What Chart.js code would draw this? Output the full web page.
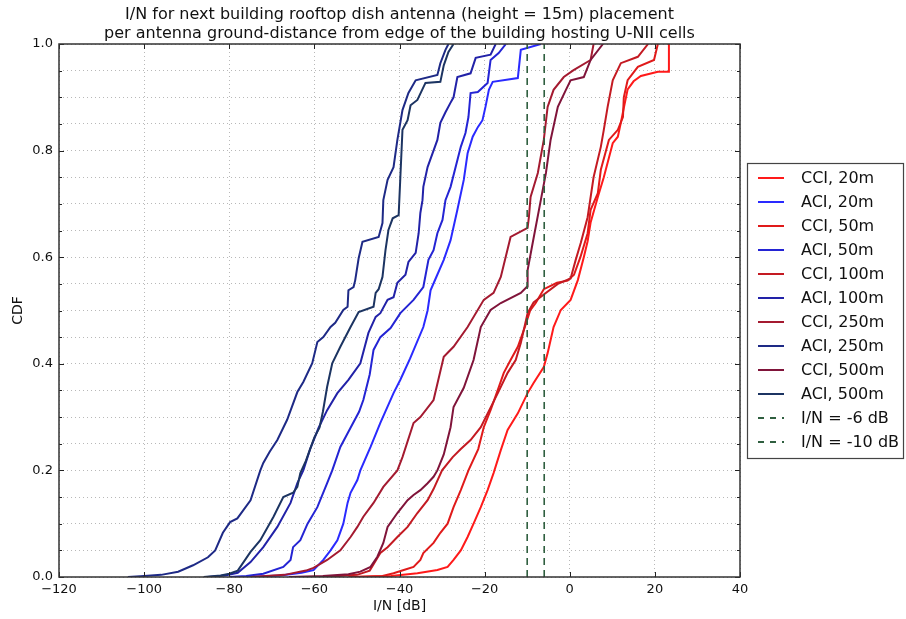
<!DOCTYPE html>
<html>
<head>
<meta charset="utf-8">
<title>I/N CDF</title>
<script src="https://cdn.jsdelivr.net/npm/chart.js@4.4.1/dist/chart.umd.min.js"></script>
<style>
  html, body { margin: 0; padding: 0; background: #fff; }
  #wrap { width: 906px; height: 619px; }
</style>
</head>
<body>
<div id="wrap"><canvas id="cdfChart" width="906" height="619"></canvas></div>
<script>
// CDF curves, each point is [I/N in dB, CDF]
var cci20m = [[-50,0],[-42,0.002],[-38,0.005],[-35.8,0.007],[-31.1,0.013],[-28.7,0.019],[-27.3,0.032],[-25.6,0.05],[-24,0.075],[-22.6,0.1],[-20.9,0.131],[-19.3,0.163],[-17.9,0.195],[-16.2,0.238],[-14.6,0.276],[-12.2,0.307],[-9.9,0.345],[-8.5,0.364],[-6.1,0.394],[-5.2,0.42],[-3.8,0.469],[-2.1,0.501],[0.2,0.52],[1.9,0.557],[3.3,0.6],[4.2,0.63],[4.9,0.665],[6.6,0.713],[8,0.75],[10.1,0.814],[11.3,0.826],[12,0.852],[12.7,0.88],[13.6,0.915],[15,0.93],[16.7,0.94],[20.7,0.948],[23.1,0.948],[23.3,1.0]];
var aci20m = [[-76,0],[-68,0.003],[-63,0.008],[-60.2,0.013],[-57.9,0.032],[-56.2,0.05],[-54.6,0.069],[-53.2,0.1],[-52.2,0.139],[-51.5,0.158],[-49.9,0.182],[-49.2,0.2],[-46.8,0.244],[-44.5,0.289],[-41.4,0.345],[-39.8,0.37],[-37.5,0.41],[-34.4,0.469],[-33.4,0.5],[-32.7,0.538],[-31.5,0.56],[-29.6,0.595],[-28,0.632],[-26.4,0.689],[-24.9,0.745],[-24,0.795],[-22.8,0.826],[-21.6,0.844],[-20.5,0.857],[-19.8,0.882],[-19,0.914],[-18.1,0.929],[-12.2,0.936],[-11.5,0.989],[-6.8,1.0]];
var cci50m = [[-52,0],[-44,0.002],[-41.4,0.007],[-39,0.013],[-36.7,0.019],[-35.1,0.032],[-34.4,0.045],[-32,0.064],[-30.4,0.083],[-28.7,0.1],[-27.3,0.131],[-25.6,0.163],[-23.8,0.2],[-21.5,0.24],[-20.2,0.281],[-18.6,0.313],[-16.9,0.351],[-15.5,0.383],[-13.9,0.407],[-12.2,0.432],[-10.5,0.47],[-9.3,0.5],[-8,0.514],[-6.1,0.54],[-3,0.552],[-0.5,0.556],[1,0.567],[2.5,0.6],[4.2,0.645],[4.9,0.689],[6.6,0.72],[7.3,0.764],[9.2,0.82],[11.3,0.839],[12.5,0.863],[12.7,0.9],[13.6,0.932],[16,0.957],[19.8,0.97],[20.7,1.0]];
var aci50m = [[-80,0],[-76,0.002],[-72,0.006],[-67.3,0.019],[-65.6,0.032],[-65,0.056],[-63.3,0.069],[-61.6,0.1],[-59.3,0.131],[-57,0.176],[-55.8,0.2],[-53.9,0.244],[-51.5,0.28],[-49.5,0.31],[-48.5,0.332],[-47,0.38],[-46.1,0.426],[-44.5,0.45],[-42.1,0.467],[-39.8,0.495],[-36.7,0.52],[-34.4,0.544],[-33.2,0.595],[-32,0.613],[-31.1,0.645],[-29.9,0.67],[-29.2,0.707],[-28,0.732],[-25.6,0.807],[-24.5,0.833],[-23.8,0.863],[-23.3,0.908],[-21.6,0.91],[-19.3,0.927],[-18.6,0.97],[-16.7,0.983],[-15,1.0]];
var cci100m = [[-58,0],[-50,0.004],[-47,0.012],[-44.5,0.045],[-42.8,0.056],[-40.5,0.075],[-38.1,0.094],[-35.8,0.12],[-33.4,0.144],[-32,0.165],[-30,0.2],[-27.5,0.225],[-25.6,0.24],[-23.3,0.257],[-20.9,0.281],[-16.9,0.345],[-14.6,0.383],[-12.7,0.407],[-11.5,0.439],[-9.9,0.495],[-8.5,0.515],[-6.1,0.53],[-2.8,0.55],[0.2,0.56],[1.4,0.595],[2.6,0.627],[4.2,0.675],[5.6,0.75],[7.3,0.807],[8,0.839],[8.9,0.882],[10.1,0.932],[12,0.964],[16,0.976],[18.4,1.0]];
var aci100m = [[-85,0],[-81,0.003],[-78,0.008],[-75,0.028],[-72,0.056],[-68.7,0.094],[-65.6,0.139],[-64,0.176],[-62.6,0.2],[-61,0.24],[-59,0.28],[-57,0.313],[-54.6,0.345],[-52,0.37],[-49.2,0.401],[-47.3,0.458],[-45.6,0.488],[-44.5,0.495],[-42.8,0.52],[-41.4,0.525],[-40.5,0.552],[-38.6,0.567],[-37.9,0.591],[-36.2,0.608],[-35.5,0.645],[-35.1,0.683],[-34.6,0.707],[-34.4,0.732],[-33.4,0.769],[-31.1,0.82],[-30.4,0.852],[-29.2,0.872],[-28,0.89],[-27.3,0.9],[-26.4,0.938],[-23.3,0.945],[-22.1,0.974],[-18.6,0.98],[-17.4,1.0]];
var cci250m = [[-75,0],[-67,0.004],[-62,0.012],[-60.2,0.017],[-57,0.032],[-53.9,0.05],[-51.5,0.075],[-49.9,0.094],[-48.5,0.113],[-46.1,0.139],[-43.8,0.169],[-40.5,0.2],[-39.3,0.225],[-36.7,0.289],[-35.1,0.3],[-32,0.332],[-29.6,0.413],[-27.3,0.432],[-24,0.469],[-20.2,0.52],[-17.9,0.533],[-16.2,0.563],[-13.9,0.638],[-9.9,0.655],[-9.6,0.675],[-9.2,0.713],[-7.5,0.758],[-6.1,0.82],[-5.2,0.882],[-3.8,0.914],[-1.4,0.938],[0.9,0.951],[4.9,0.97],[5.6,1.0]];
var aci250m = [[-103.8,0],[-100,0.002],[-96,0.004],[-92,0.01],[-88.5,0.022],[-85,0.037],[-83.3,0.05],[-81.5,0.083],[-79.8,0.103],[-78.1,0.11],[-75,0.144],[-72.7,0.2],[-72,0.214],[-70.5,0.235],[-68.7,0.257],[-66.4,0.295],[-64,0.347],[-62.6,0.366],[-60.5,0.401],[-59.3,0.441],[-57.9,0.45],[-56.2,0.469],[-55.1,0.477],[-53.2,0.501],[-52.2,0.507],[-52,0.538],[-50.8,0.544],[-50.4,0.557],[-49.6,0.598],[-48.7,0.629],[-44.9,0.638],[-44,0.664],[-43.8,0.707],[-42.8,0.745],[-41.4,0.769],[-40.5,0.82],[-39.3,0.876],[-37.9,0.908],[-36.2,0.932],[-31.1,0.942],[-30.4,0.964],[-29.2,0.989],[-28.5,1.0]];
var cci500m = [[-66,0],[-58,0.002],[-52,0.005],[-49.2,0.01],[-46.8,0.019],[-45.2,0.038],[-43.8,0.064],[-42.8,0.094],[-40.5,0.12],[-38.1,0.144],[-36.7,0.154],[-35.1,0.163],[-33.4,0.176],[-32,0.188],[-31.1,0.2],[-29.6,0.23],[-28,0.281],[-27.3,0.319],[-24.9,0.355],[-22.6,0.407],[-20.9,0.469],[-18.6,0.501],[-16.2,0.514],[-11.5,0.533],[-10,0.545],[-9.9,0.576],[-8.7,0.627],[-6.8,0.707],[-5.6,0.758],[-4.5,0.82],[-2.8,0.882],[-0.9,0.914],[0.2,0.932],[3.3,0.938],[4.9,0.97],[7.8,1.0]];
var aci500m = [[-86,0],[-82,0.003],[-80,0.006],[-78,0.012],[-75,0.047],[-72.7,0.069],[-69.6,0.113],[-67.3,0.15],[-65,0.158],[-64,0.169],[-63.3,0.195],[-62,0.218],[-61,0.24],[-60,0.262],[-58.8,0.28],[-58,0.31],[-57,0.357],[-55.8,0.401],[-53.9,0.432],[-51.5,0.469],[-49.6,0.497],[-46.1,0.507],[-45.6,0.533],[-44.9,0.54],[-44,0.563],[-43.3,0.613],[-42.6,0.651],[-41.6,0.673],[-40.2,0.679],[-39.8,0.75],[-39.3,0.839],[-38.1,0.857],[-37.4,0.885],[-35.8,0.895],[-33.9,0.927],[-30.4,0.929],[-29.6,0.96],[-28.5,0.985],[-27.3,1.0]];

// legend labels and colours, in the order of the original legend
var seriesLabels = ['CCI, 20m', 'ACI, 20m', 'CCI, 50m', 'ACI, 50m', 'CCI, 100m', 'ACI, 100m', 'CCI, 250m', 'ACI, 250m', 'CCI, 500m', 'ACI, 500m'];
var seriesData = [cci20m, aci20m, cci50m, aci50m, cci100m, aci100m, cci250m, aci250m, cci500m, aci500m];
var seriesColors = ['#ff1a1a', '#2a2aff', '#e01a1a', '#2424d4', '#c41a22', '#2222a8', '#a41a30', '#1e2a86', '#80143a', '#1c3462'];

// I/N protection thresholds (vertical dashed lines)
var thresholdsDb = [-6, -10];
var thresholdLabels = ['I/N = -6 dB', 'I/N = -10 dB'];
var thresholdColor = '#2f5f3f';

var titleLines = [
  'I/N for next building rooftop dish antenna (height = 15m) placement',
  'per antenna ground-distance from edge of the building hosting U-NII cells'
];

var FONT = '"DejaVu Sans", sans-serif';

// Build the datasets
var datasets = [];
for (let i = 0; i < seriesData.length; i++) {
  datasets.push({
    label: seriesLabels[i],
    data: seriesData[i].map(p => ({ x: p[0], y: p[1] })),
    borderColor: seriesColors[i],
    backgroundColor: seriesColors[i],
    borderWidth: 2,
    showLine: true,
    pointRadius: 0,
    order: 100 - i
  });
}
for (let i = 0; i < thresholdsDb.length; i++) {
  datasets.push({
    label: thresholdLabels[i],
    data: [{ x: thresholdsDb[i], y: 0 }, { x: thresholdsDb[i], y: 1 }],
    borderColor: thresholdColor,
    backgroundColor: thresholdColor,
    borderWidth: 1.6,
    borderDash: [7, 5],
    showLine: true,
    pointRadius: 0,
    order: 50 - i
  });
}

// Frame, inner ticks, title and boxed legend, drawn like the matplotlib figure
var figureDecor = {
  id: 'figureDecor',
  afterDraw(chart) {
    const ctx = chart.ctx;
    const a = chart.chartArea;
    const xs = chart.scales.x, ys = chart.scales.y;
    ctx.save();

    // inner tick marks on all four sides
    ctx.strokeStyle = '#222';
    ctx.lineWidth = 1;
    ctx.beginPath();
    xs.ticks.forEach(t => {
      const px = Math.round(xs.getPixelForValue(t.value)) + 0.5;
      ctx.moveTo(px, a.bottom); ctx.lineTo(px, a.bottom - 5);
      ctx.moveTo(px, a.top); ctx.lineTo(px, a.top + 5);
    });
    ys.ticks.forEach(t => {
      const py = Math.round(ys.getPixelForValue(t.value)) + 0.5;
      const len = t.label ? 5 : 3;
      ctx.moveTo(a.left, py); ctx.lineTo(a.left + len, py);
      ctx.moveTo(a.right, py); ctx.lineTo(a.right - len, py);
    });
    ctx.stroke();

    // axes frame
    ctx.strokeStyle = '#333';
    ctx.lineWidth = 1.5;
    ctx.strokeRect(a.left, a.top, a.right - a.left, a.bottom - a.top);

    // two-line title centred over the plot
    ctx.fillStyle = '#111';
    ctx.font = '16px ' + FONT;
    ctx.textAlign = 'center';
    ctx.textBaseline = 'alphabetic';
    const cx = (a.left + a.right) / 2;
    ctx.fillText(titleLines[0], cx, 19);
    ctx.fillText(titleLines[1], cx, 37.5);

    // legend box outside the axes on the right
    const lx = 747.5, ly = 163.5, lw = 156, lh = 295;
    ctx.fillStyle = '#fff';
    ctx.fillRect(lx, ly, lw, lh);
    ctx.strokeStyle = '#444';
    ctx.lineWidth = 1.2;
    ctx.strokeRect(lx, ly, lw, lh);
    ctx.textAlign = 'left';
    ctx.textBaseline = 'middle';
    ctx.font = '16px ' + FONT;
    chart.data.datasets.forEach((ds, i) => {
      const y = 178 + i * 24;
      ctx.strokeStyle = ds.borderColor;
      ctx.lineWidth = 2;
      ctx.setLineDash(ds.borderDash ? [6, 6] : []);
      ctx.beginPath();
      ctx.moveTo(758, y); ctx.lineTo(784, y);
      ctx.stroke();
      ctx.setLineDash([]);
      ctx.fillStyle = '#111';
      ctx.fillText(ds.label, 801, y + 1);
    });
    ctx.restore();
  }
};

function minusSign(v) {
  return String(v).replace('-', '\u2212');
}

var ctx = document.getElementById('cdfChart').getContext('2d');
var cdfChart = new Chart(ctx, {
  type: 'scatter',
  data: { datasets: datasets },
  options: {
    responsive: false,
    animation: false,
    devicePixelRatio: 1,
    layout: { padding: { left: 0, right: 166, top: 44, bottom: 0 } },
    plugins: {
      legend: { display: false },
      title: { display: false },
      tooltip: { enabled: false }
    },
    scales: {
      x: {
        type: 'linear',
        min: -120,
        max: 40,
        border: { display: false, dash: [1, 3] },
        grid: { color: 'rgba(0,0,0,0.28)', lineWidth: 1, drawTicks: false },
        ticks: {
          stepSize: 20,
          padding: 5,
          color: '#111',
          font: { family: FONT, size: 13 },
          maxRotation: 0,
          autoSkip: false,
          callback: v => minusSign(v)
        },
        title: { display: true, text: 'I/N [dB]', color: '#111', font: { family: FONT, size: 14 }, padding: 4 },
        afterFit: s => { s.height = 42; }
      },
      y: {
        type: 'linear',
        min: 0,
        max: 1,
        border: { display: false, dash: [1, 3] },
        grid: { color: 'rgba(0,0,0,0.28)', lineWidth: 1, drawTicks: false },
        ticks: {
          stepSize: 0.05,
          maxTicksLimit: 100,
          autoSkip: false,
          padding: 6,
          color: '#111',
          font: { family: FONT, size: 13 },
          callback: v => (Math.abs(v / 0.2 - Math.round(v / 0.2)) < 1e-6 ? v.toFixed(1) : '')
        },
        title: { display: true, text: 'CDF', color: '#111', font: { family: FONT, size: 14 }, padding: 10 },
        afterFit: s => { s.width = 59; }
      }
    }
  },
  plugins: [figureDecor]
});
</script>
</body>
</html>
